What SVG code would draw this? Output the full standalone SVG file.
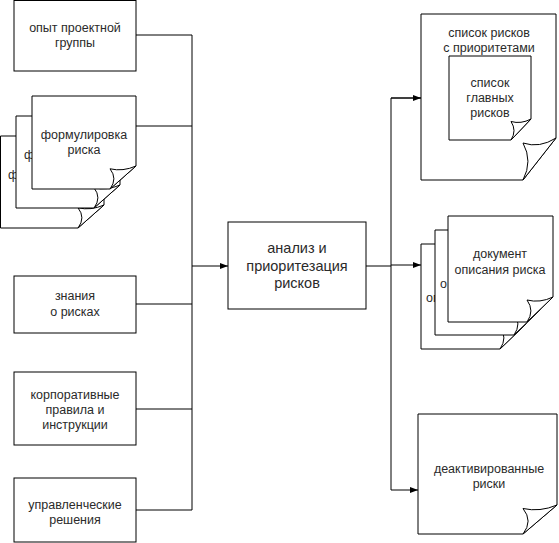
<svg xmlns="http://www.w3.org/2000/svg" width="559" height="543" viewBox="0 0 559 543">
<style>
.box{fill:#fff;stroke:#000;stroke-width:1}
.doc{fill:#fff;stroke:#000;stroke-width:1;stroke-linejoin:miter}
.con{fill:none;stroke:#000;stroke-width:1}
.t{font-family:"Liberation Sans",Arial,sans-serif;font-size:12.5px;fill:#2a2a2a;text-anchor:middle}
.ts{font-family:"Liberation Sans",Arial,sans-serif;font-size:12.5px;fill:#2a2a2a;text-anchor:start}
.tb{font-family:"Liberation Sans",Arial,sans-serif;font-size:14.5px;fill:#2a2a2a;text-anchor:middle}
</style>
<defs>
<marker id="arr" markerUnits="userSpaceOnUse" markerWidth="8" markerHeight="6" refX="8" refY="3" orient="auto">
<path d="M0,0 L8,3 L0,6 Z" fill="#000"/>
</marker>
</defs>
<g id="connectors">
<path class="con" d="M136,35 H192 V510 H136"/>
<path class="con" d="M136,126 H192"/>
<path class="con" d="M136,304 H192"/>
<path class="con" d="M136,409 H192"/>
<path class="con" d="M192,266 H228" marker-end="url(#arr)"/>
<path class="con" d="M366,266 H391"/>
<path class="con" d="M421,98 H391 V490"/>
<path class="con" d="M391,98 H421" marker-end="url(#arr)"/>
<path class="con" d="M391,265 H421" marker-end="url(#arr)"/>
<path class="con" d="M391,490 H418" marker-end="url(#arr)"/>
</g>
<g id="n-opyt">
<rect class="box" x="14" y="0.5" width="122" height="70.5"/>
<text class="t" x="75" y="32">опыт проектной</text>
<text class="t" x="75" y="47">группы</text>
</g>
<g id="n-formulirovka">
<path class="doc" d="M0.5,136 H104 V205 L78,228 H0.5 Z"/>
<path class="doc" d="M104,205 Q91,210.8 78,207.8 Q85.8,217.7 78,228 L104,205 Z"/>
<text class="ts" x="8" y="179">ф</text>
<path class="doc" d="M16,116 H120 V185 L94,208 H16 Z"/>
<path class="doc" d="M120,185 Q107,190.8 94,187.8 Q101.8,197.7 94,208 L120,185 Z"/>
<text class="ts" x="24" y="159">ф</text>
<path class="doc" d="M32,96 H136 V166 L110,189 H32 Z"/>
<path class="doc" d="M136,166 Q123,171.8 110,168.8 Q117.8,178.7 110,189 L136,166 Z"/>
<text class="t" x="84" y="139">формулировка</text>
<text class="t" x="84" y="154">риска</text>
</g>
<g id="n-znaniya">
<rect class="box" x="14" y="276" width="122" height="57"/>
<text class="t" x="75" y="300">знания</text>
<text class="t" x="75" y="316">о рисках</text>
</g>
<g id="n-korp">
<rect class="box" x="14" y="372" width="122" height="73"/>
<text class="t" x="75" y="399">корпоративные</text>
<text class="t" x="75" y="414">правила и</text>
<text class="t" x="75" y="429">инструкции</text>
</g>
<g id="n-upr">
<rect class="box" x="14" y="478" width="122" height="64"/>
<text class="t" x="75" y="509">управленческие</text>
<text class="t" x="75" y="524">решения</text>
</g>
<g id="n-analiz">
<rect class="box" x="228" y="222" width="138" height="87"/>
<text class="tb" x="297" y="253">анализ и</text>
<text class="tb" x="297" y="271">приоритезация</text>
<text class="tb" x="297" y="288">рисков</text>
</g>
<g id="n-spisok">
<path class="doc" d="M421,14 H556 V138 L523,180 H421 Z"/>
<path class="doc" d="M556,138 Q539.5,148.5 523,143 Q532.9,161.1 523,180 L556,138 Z"/>
<text class="t" x="489" y="37">список рисков</text>
<text class="t" x="489" y="52">с приоритетами</text>
</g>
<g id="n-glavnye">
<path class="doc" d="M449,56 H531 V119 L511,140 H449 Z"/>
<path class="doc" d="M531,119 Q521,124.3 511,121.5 Q517,130.6 511,140 L531,119 Z"/>
<text class="t" x="490" y="87">список</text>
<text class="t" x="490" y="102">главных</text>
<text class="t" x="490" y="117">рисков</text>
</g>
<g id="n-dokument">
<path class="doc" d="M421,244 H526 V324 L500,349 H421 Z"/>
<path class="doc" d="M526,324 Q513,330.3 500,327 Q507.8,337.8 500,349 L526,324 Z"/>
<text class="ts" x="426" y="302">оп</text>
<path class="doc" d="M435,230 H540 V310 L514,335 H435 Z"/>
<path class="doc" d="M540,310 Q527,316.3 514,313 Q521.8,323.8 514,335 L540,310 Z"/>
<text class="ts" x="440" y="288">о</text>
<path class="doc" d="M448,216 H553 V297 L527,322 H448 Z"/>
<path class="doc" d="M553,297 Q540,303.3 527,300 Q534.8,310.8 527,322 L553,297 Z"/>
<text class="t" x="500" y="258">документ</text>
<text class="t" x="500" y="274">описания риска</text>
</g>
<g id="n-deakt">
<path class="doc" d="M418,414 H557 V505 L523,534 H418 Z"/>
<path class="doc" d="M557,505 Q540,512.3 523,508.5 Q533.2,521 523,534 L557,505 Z"/>
<text class="t" x="489" y="473">деактивированные</text>
<text class="t" x="489" y="488">риски</text>
</g>
</svg>
